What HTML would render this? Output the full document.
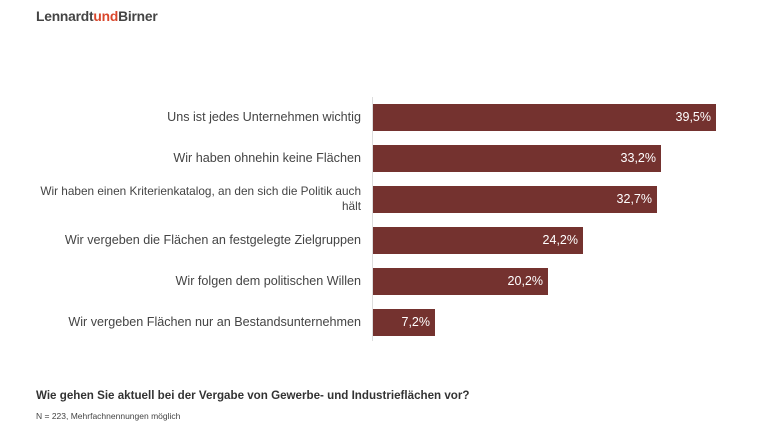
<!DOCTYPE html>
<html><head><meta charset="utf-8"><style>
body{margin:0;width:768px;height:436px;background:#fff;font-family:"Liberation Sans",sans-serif;position:relative;overflow:hidden}
.logo{position:absolute;left:36px;top:9px;font-size:13.8px;font-weight:bold;color:#444;letter-spacing:-0.2px}
.logo span{color:#d9462b}
.axis{position:absolute;left:372px;top:97px;width:1px;height:244px;background:#ddd}
.bar{position:absolute;left:373px;height:27px;background:#74322f;color:#fff;font-size:12.5px;text-align:right;box-sizing:border-box;padding-right:5px;line-height:27px}
.lab{position:absolute;right:407px;width:360px;text-align:right;font-size:12.6px;color:#444;line-height:15px;white-space:nowrap}
.t{position:absolute;left:36px;top:389px;font-size:11.6px;font-weight:bold;color:#333}
.n{position:absolute;left:36px;top:411px;font-size:8.5px;color:#444}
</style></head><body>
<div class="logo">Lennardt<span>und</span>Birner</div>
<div class="axis"></div>
<div class="lab" style="top:110px">Uns ist jedes Unternehmen wichtig</div>
<div class="bar" style="top:104px;width:343px">39,5%</div>
<div class="lab" style="top:151px">Wir haben ohnehin keine Flächen</div>
<div class="bar" style="top:145px;width:288px">33,2%</div>
<div class="lab" style="top:184px;font-size:11.8px">Wir haben einen Kriterienkatalog, an den sich die Politik auch<br>hält</div>
<div class="bar" style="top:186px;width:284px">32,7%</div>
<div class="lab" style="top:233px">Wir vergeben die Flächen an festgelegte Zielgruppen</div>
<div class="bar" style="top:227px;width:210px">24,2%</div>
<div class="lab" style="top:274px">Wir folgen dem politischen Willen</div>
<div class="bar" style="top:268px;width:175px">20,2%</div>
<div class="lab" style="top:315px">Wir vergeben Flächen nur an Bestandsunternehmen</div>
<div class="bar" style="top:309px;width:62px">7,2%</div>
<div class="t">Wie gehen Sie aktuell bei der Vergabe von Gewerbe- und Industrieflächen vor?</div>
<div class="n">N = 223, Mehrfachnennungen möglich</div>
</body></html>
